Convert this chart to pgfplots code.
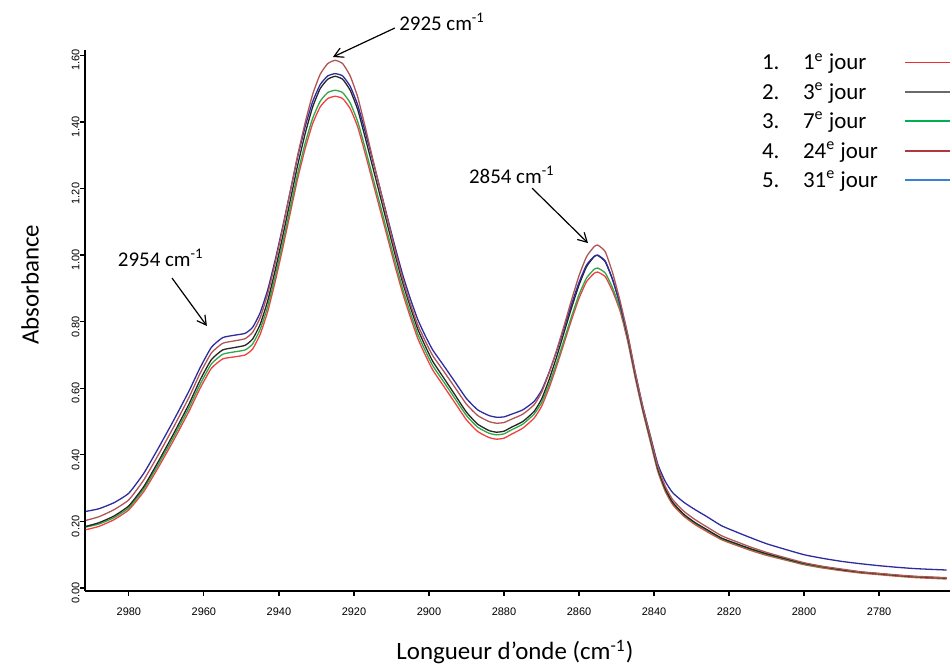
\documentclass[border=0pt]{standalone}
\usepackage{fontspec}
\setmainfont{Carlito}
\newfontfamily\arialfont{Liberation Sans}
\usepackage{pgfplots}
\usepackage{pgfplotstable}
\pgfplotsset{compat=1.18}
\usetikzlibrary{arrows.meta}

\definecolor{cRed}{HTML}{F04040}
\definecolor{cBlack}{HTML}{252525}
\definecolor{cGreen}{HTML}{30A848}
\definecolor{cBrown}{HTML}{B05555}
\definecolor{cNavy}{HTML}{2C2CA0}
\definecolor{legRed}{HTML}{E83030}
\definecolor{legGray}{HTML}{6A6A6A}
\definecolor{legGreen}{HTML}{00B050}
\definecolor{legBrown}{HTML}{B03838}
\definecolor{legBlue}{HTML}{3A80D5}

% x  R(1e)  K(3e)  G(7e)  B(24e)  U(31e)
\pgfplotstableread{
x R K G B U
2991.5 0.175 0.185 0.183 0.203 0.230
2988 0.185 0.196 0.192 0.214 0.238
2984 0.205 0.216 0.211 0.235 0.256
2980 0.235 0.247 0.241 0.265 0.285
2976 0.290 0.305 0.298 0.325 0.345
2972 0.365 0.383 0.374 0.403 0.423
2968 0.445 0.465 0.455 0.485 0.505
2964 0.530 0.552 0.541 0.572 0.591
2961 0.600 0.625 0.612 0.645 0.662
2958 0.660 0.686 0.673 0.706 0.723
2955 0.688 0.715 0.702 0.735 0.752
2952 0.694 0.722 0.709 0.742 0.759
2949 0.700 0.729 0.715 0.749 0.765
2947 0.718 0.748 0.733 0.768 0.783
2945 0.762 0.792 0.777 0.812 0.827
2943 0.830 0.862 0.845 0.883 0.895
2941 0.920 0.954 0.935 0.976 0.985
2939 1.020 1.056 1.035 1.080 1.085
2937 1.125 1.163 1.140 1.190 1.190
2935 1.230 1.270 1.245 1.300 1.295
2933 1.320 1.365 1.336 1.398 1.386
2931 1.395 1.445 1.411 1.483 1.461
2929 1.445 1.500 1.462 1.543 1.512
2927 1.470 1.528 1.488 1.575 1.538
2925 1.477 1.537 1.495 1.585 1.545
2923 1.470 1.528 1.488 1.575 1.538
2921 1.440 1.495 1.457 1.538 1.507
2919 1.385 1.437 1.401 1.475 1.451
2917 1.305 1.353 1.321 1.385 1.371
2915 1.220 1.265 1.235 1.290 1.285
2913 1.135 1.177 1.150 1.197 1.198
2911 1.050 1.088 1.064 1.105 1.110
2909 0.965 1.000 0.979 1.013 1.023
2907 0.885 0.917 0.898 0.928 0.941
2905 0.815 0.845 0.828 0.855 0.870
2903 0.750 0.778 0.763 0.791 0.807
2901 0.700 0.727 0.713 0.742 0.758
2899 0.655 0.681 0.668 0.698 0.715
2896 0.605 0.630 0.618 0.650 0.667
2893 0.555 0.579 0.568 0.601 0.618
2890 0.505 0.528 0.518 0.552 0.569
2887 0.470 0.492 0.483 0.518 0.535
2884 0.452 0.473 0.465 0.500 0.518
2882 0.447 0.468 0.460 0.495 0.513
2880 0.450 0.471 0.463 0.497 0.514
2878 0.462 0.483 0.475 0.507 0.522
2875 0.480 0.500 0.492 0.522 0.535
2872 0.510 0.530 0.522 0.550 0.560
2870 0.545 0.567 0.556 0.587 0.593
2868 0.600 0.625 0.611 0.645 0.647
2866 0.665 0.693 0.675 0.713 0.710
2864 0.735 0.767 0.745 0.787 0.781
2862 0.805 0.841 0.815 0.865 0.852
2860 0.870 0.910 0.881 0.938 0.918
2858 0.920 0.965 0.931 0.995 0.970
2856 0.945 0.995 0.957 1.025 0.996
2855 0.949 0.999 0.961 1.030 1.000
2853 0.935 0.980 0.946 1.010 0.982
2851 0.890 0.925 0.900 0.945 0.925
2849 0.830 0.850 0.838 0.860 0.850
2847 0.740 0.755 0.747 0.762 0.757
2845 0.630 0.642 0.636 0.648 0.645
2843 0.530 0.540 0.535 0.545 0.545
2841 0.440 0.450 0.445 0.455 0.458
2839 0.350 0.359 0.355 0.365 0.372
2837 0.290 0.298 0.295 0.305 0.320
2835 0.250 0.257 0.255 0.265 0.286
2832 0.215 0.221 0.219 0.230 0.257
2829 0.190 0.196 0.194 0.205 0.235
2826 0.170 0.176 0.174 0.184 0.215
2822 0.145 0.150 0.148 0.157 0.187
2818 0.128 0.133 0.131 0.139 0.168
2814 0.112 0.117 0.115 0.122 0.150
2810 0.098 0.103 0.101 0.107 0.133
2805 0.084 0.088 0.086 0.091 0.116
2800 0.070 0.074 0.072 0.076 0.100
2795 0.060 0.064 0.062 0.065 0.089
2790 0.052 0.055 0.054 0.057 0.080
2785 0.045 0.048 0.047 0.049 0.073
2780 0.040 0.043 0.042 0.044 0.067
2775 0.035 0.038 0.037 0.039 0.062
2770 0.031 0.034 0.033 0.035 0.058
2762 0.027 0.030 0.029 0.031 0.054
}\spectra

\begin{document}
\begin{tikzpicture}
\useasboundingbox (0,0) rectangle (475bp,333bp);
\begin{axis}[
  at={(42.5bp,37.5bp)}, anchor=south west,
  scale only axis, width=432.5bp, height=270.5bp,
  x dir=reverse,
  xmin=2761.1, xmax=2991.7, ymin=-0.009, ymax=1.616,
  axis x line*=bottom, axis y line*=left,
  axis line style={line width=0.9bp, -},
  clip=false,
  xtick={2780,2800,2820,2840,2860,2880,2900,2920,2940,2960,2980},
  ytick={0,0.2,0.4,0.6,0.8,1.0,1.2,1.4,1.6},
  tick align=outside, major tick length=2.5bp,
  tick style={black, line width=0.6bp},
  ticklabel style={font=\arialfont\fontsize{5.5}{6}\selectfont},
  xticklabel style={inner sep=0pt, anchor=north, yshift=-5.5bp,
    /pgf/number format/.cd, set thousands separator={}, assume math mode=true},
  yticklabel style={rotate=90, anchor=south, inner sep=0pt, xshift=-2.5bp,
    /pgf/number format/.cd, fixed, fixed zerofill, precision=2, assume math mode=true},
  xlabel={Longueur d’onde (cm\textsuperscript{-1})},
  ylabel={Absorbance},
  label style={font=\fontsize{12.5}{14}\selectfont},
  xlabel style={at={(axis description cs:0.497,-0.113)}, anchor=center},
  ylabel style={at={(axis description cs:-0.0636,0.566)}, anchor=center},
  every axis plot/.append style={line width=0.65bp},
  legend cell align=left,
  legend plot pos=right,
  legend style={at={(axis description cs:0.7827,1.004)}, anchor=north west,
    draw=none, fill=none, inner sep=0pt, outer sep=0pt,
    font=\fontsize{11.5}{13}\selectfont,
    nodes={inner sep=0pt, text height=11bp, text depth=3.7bp},
    /tikz/column sep=13bp, /tikz/row sep=0pt},
  legend image code/.code={\draw[line width=0.9bp, #1] (0bp,0bp) -- (40bp,0bp);},
]
\addplot[color=cRed, forget plot, smooth, tension=0.3] table[x=x, y=R] {\spectra};
\addplot[color=cGreen, forget plot, smooth, tension=0.3] table[x=x, y=G] {\spectra};
\addplot[color=cBlack, forget plot, smooth, tension=0.3] table[x=x, y=K] {\spectra};
\addplot[color=cNavy, forget plot, smooth, tension=0.3] table[x=x, y=U] {\spectra};
\addplot[color=cBrown, forget plot, smooth, tension=0.3] table[x=x, y=B] {\spectra};

\addlegendimage{color=legRed}
\addlegendentry{\makebox[20.5bp][l]{1.}1\textsuperscript{e} jour}
\addlegendimage{color=legGray}
\addlegendentry{\makebox[20.5bp][l]{2.}3\textsuperscript{e} jour}
\addlegendimage{color=legGreen}
\addlegendentry{\makebox[20.5bp][l]{3.}7\textsuperscript{e} jour}
\addlegendimage{color=legBrown}
\addlegendentry{\makebox[20.5bp][l]{4.}24\textsuperscript{e} jour}
\addlegendimage{color=legBlue}
\addlegendentry{\makebox[20.5bp][l]{5.}31\textsuperscript{e} jour}

\node[font=\fontsize{10.5}{12}\selectfont] at (axis cs:2896.5,1.70) {2925 cm\textsuperscript{-1}};
\draw[line width=0.6bp, -{Straight Barb[length=4.5bp,width=5bp]}] (axis cs:2909.1,1.682) -- (axis cs:2925.6,1.595);
\node[font=\fontsize{10.5}{12}\selectfont] at (axis cs:2877.9,1.24) {2854 cm\textsuperscript{-1}};
\draw[line width=0.6bp, -{Straight Barb[length=4.5bp,width=5bp]}] (axis cs:2872.5,1.201) -- (axis cs:2857.6,1.036);
\node[font=\fontsize{10.5}{12}\selectfont] at (axis cs:2971.5,0.991) {2954 cm\textsuperscript{-1}};
\draw[line width=0.6bp, -{Straight Barb[length=4.5bp,width=5bp]}] (axis cs:2968.5,0.931) -- (axis cs:2959.2,0.787);
\end{axis}
\end{tikzpicture}
\end{document}
